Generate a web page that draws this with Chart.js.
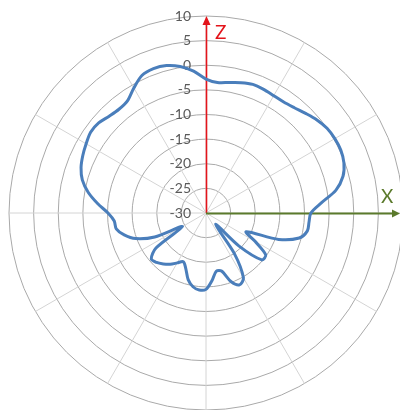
<!DOCTYPE html>
<html>
<head>
<meta charset="utf-8">
<script src="https://cdn.jsdelivr.net/npm/chart.js@4/dist/chart.umd.min.js"></script>
<style>
  html, body { margin: 0; padding: 0; background: #fff; overflow: hidden; }
  #wrap { position: absolute; left: 0; top: 0; width: 410px; height: 412px; }
</style>
</head>
<body>
<div id="wrap"><canvas id="myChart" width="410" height="412"></canvas></div>
<script>

// angle in degrees, clockwise from the Z axis
const angles = [
    0, 5, 10, 15, 20, 25, 30, 35, 40, 45, 50, 55,
    60, 65, 70, 75, 80, 85, 90, 95, 100, 105, 110, 115,
    120, 125, 130, 135, 140, 145, 150, 155, 160, 165, 170, 175,
    180, 185, 190, 195, 200, 205, 210, 215, 220, 225, 230, 235,
    240, 245, 250, 255, 260, 265, 270, 275, 280, 285, 290, 295,
    300, 305, 310, 315, 320, 325, 330, 335, 340, 345, 350, 355
];

// gain in dB
const gain = [
    -2.8, -3.4, -3.1, -2.6, -2.2, -2.3, -2.5, -2.5, -2.1, -1.4, -0.6, 0.0,
    0.2, 0.2, -0.2, -1.2, -3.2, -6.5, -8.7, -9.0, -9.1, -10.4, -14.3, -21.0,
    -18.5, -15.2, -15.2, -20.5, -27.0, -20.0, -14.8, -13.9, -15.2, -17.8, -18.0, -16.2,
    -14.5, -14.3, -14.8, -16.0, -18.0, -19.1, -18.3, -17.3, -16.5, -15.8, -15.5, -17.6,
    -24.5, -18.5, -14.8, -12.8, -11.5, -11.3, -10.1, -7.9, -5.7, -4.0, -3.0, -2.4,
    -1.9, -1.4, -1.55, -2.2, -2.5, -2.2, -0.7, 0.8, 1.2, 1.0, 0.2, -1.1
];

const tickValues = [10, 5, 0, -5, -10, -15, -20, -25, -30];
const axisNames = ['Z', 'X'];

const axisDecor = {
    id: 'axisDecor',
    beforeDatasetsDraw(chart) {
        const sc = chart.scales.r;
        const c = chart.ctx;
        const cx = sc.xCenter, cy = sc.yCenter;
        const R = sc.getDistanceFromCenterForValue(10);

        c.save();
        // tick labels, left of the Z axis
        c.font = '14px Lato';
        c.fillStyle = '#595959';
        c.textAlign = 'right';
        c.textBaseline = 'middle';
        tickValues.forEach(function (v) {
            c.fillText(String(v), cx - 15, cy - sc.getDistanceFromCenterForValue(v));
        });

        // Z arrow (up)
        const zTip = cy - R;
        c.strokeStyle = '#e3141b';
        c.fillStyle = '#e3141b';
        c.lineWidth = 1.6;
        c.beginPath();
        c.moveTo(cx + 0.5, cy);
        c.lineTo(cx + 0.5, zTip + 6);
        c.stroke();
        c.beginPath();
        c.moveTo(cx + 0.5, zTip);
        c.lineTo(cx + 4.5, zTip + 9);
        c.lineTo(cx - 3.5, zTip + 9);
        c.closePath();
        c.fill();
        c.font = '19px Lato';
        c.textAlign = 'left';
        c.textBaseline = 'alphabetic';
        c.fillText(axisNames[0], cx + 9, zTip + 23);

        // X arrow (right)
        const xTip = cx + R - 3;
        c.strokeStyle = '#5b7a2c';
        c.fillStyle = '#5b7a2c';
        c.lineWidth = 1.8;
        c.beginPath();
        c.moveTo(cx, cy + 0.5);
        c.lineTo(xTip - 6, cy + 0.5);
        c.stroke();
        c.beginPath();
        c.moveTo(xTip, cy + 0.5);
        c.lineTo(xTip - 8, cy - 3.5);
        c.lineTo(xTip - 8, cy + 4.5);
        c.closePath();
        c.fill();
        c.font = '19px Lato';
        c.fillText(axisNames[1], cx + 175, cy - 10);
        c.restore();
    }
};

const ctx = document.getElementById('myChart');
const myChart = new Chart(ctx, {
    type: 'radar',
    data: {
        labels: angles.map(String),
        datasets: [{
            label: 'Gain',
            data: gain,
            borderColor: '#4a7ebb',
            borderWidth: 3,
            pointRadius: 0,
            pointHoverRadius: 0,
            fill: false,
            tension: 0.3
        }]
    },
    options: {
        responsive: false,
        animation: false,
        layout: { padding: { left: 9, right: 6, top: 16, bottom: 1 } },
        plugins: {
            legend: { display: false },
            tooltip: { enabled: false }
        },
        scales: {
            r: {
                min: -30,
                max: 10,
                ticks: { stepSize: 5, display: false },
                pointLabels: { display: false },
                grid: { circular: true, color: '#a9a9a9', lineWidth: 1 },
                angleLines: {
                    display: true,
                    lineWidth: 1,
                    color: function (context) {
                        return context.index % 6 === 0 ? '#d4d4d4' : 'rgba(0,0,0,0)';
                    }
                }
            }
        }
    },
    plugins: [axisDecor]
});

</script>
</body>
</html>
